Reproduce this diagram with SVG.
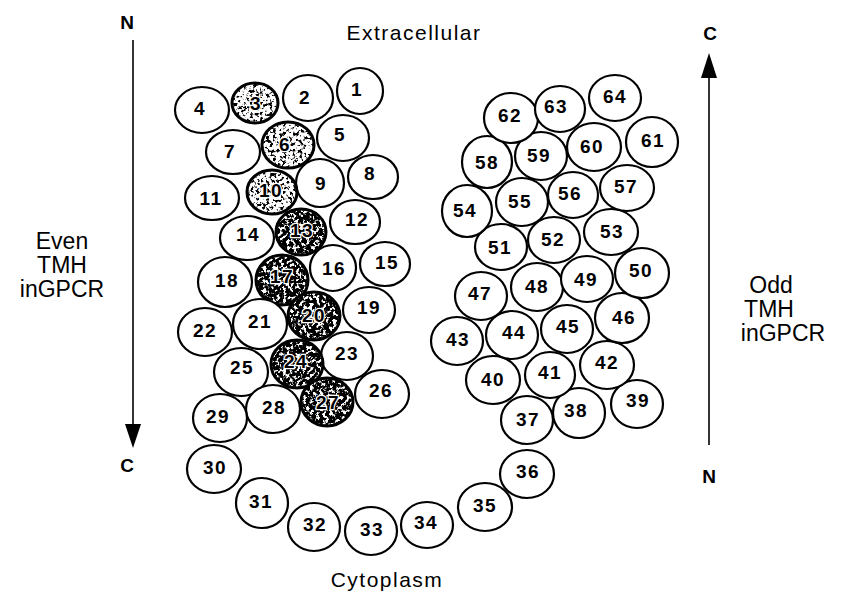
<svg xmlns="http://www.w3.org/2000/svg" width="844" height="601" viewBox="0 0 844 601">
  <style>
    .c { fill: #fff; stroke: #000; stroke-width: 2.2; }
    .sh { stroke: #000; stroke-width: 3; }
    .n { font-family: "Liberation Sans", Arial, sans-serif; font-size: 19px; font-weight: bold; letter-spacing: 1.5px; text-anchor: middle; fill: #000; }
    .nd { paint-order: stroke; stroke: #fff; stroke-width: 2.5px; }
    .lbl { font-family: "Liberation Sans", Arial, sans-serif; font-size: 23px; text-anchor: middle; fill: #000; }
    .loc { font-family: "Liberation Sans", Arial, sans-serif; font-size: 21px; letter-spacing: 1.5px; text-anchor: middle; fill: #000; }
    .end { font-family: "Liberation Sans", Arial, sans-serif; font-size: 19px; font-weight: bold; text-anchor: middle; fill: #000; }
    .ax { stroke: #000; stroke-width: 1.6; fill: none; }
    .head { fill: #000; }
  </style>
  <defs>
    <!-- speckled fill for the marked helices: light and dark grades -->
    <filter id="speckLight" x="0" y="0" width="100%" height="100%">
      <feTurbulence type="fractalNoise" baseFrequency="0.3" numOctaves="3" seed="4" result="n"/>
      <feColorMatrix in="n" type="matrix" values="0 0 0 0 0  0 0 0 0 0  0 0 0 0 0  9 0 0 0 -4.7" result="a"/>
      <feComposite in="a" in2="SourceGraphic" operator="in"/>
    </filter>
    <filter id="speckDark" x="0" y="0" width="100%" height="100%">
      <feTurbulence type="fractalNoise" baseFrequency="0.3" numOctaves="3" seed="9" result="n"/>
      <feColorMatrix in="n" type="matrix" values="0 0 0 0 0  0 0 0 0 0  0 0 0 0 0  9 0 0 0 -3.4" result="a"/>
      <feComposite in="a" in2="SourceGraphic" operator="in"/>
    </filter>
  </defs>

  <rect width="844" height="601" fill="#fff"/>

  <!-- side labels -->
  <text class="loc" x="414" y="40">Extracellular</text>
  <text class="loc" x="387" y="587">Cytoplasm</text>
  <text class="lbl" x="62" y="249">Even</text>
  <text class="lbl" x="62" y="273">TMH</text>
  <text class="lbl" x="62" y="297">inGPCR</text>
  <text class="lbl" x="771" y="293">Odd</text>
  <text class="lbl" x="769" y="317">TMH</text>
  <text class="lbl" x="783" y="341">inGPCR</text>
  <text class="end" x="127" y="29">N</text>
  <text class="end" x="127" y="472">C</text>
  <text class="end" x="710" y="40">C</text>
  <text class="end" x="709" y="483">N</text>

  <!-- direction arrows -->
  <g id="connectors">
    <path class="ax" d="M133,40 V428"/>
    <path class="head" d="M125,424 L141,424 L133,448 Z"/>
    <path class="ax" d="M709,445 V76"/>
    <path class="head" d="M701,78 L717,78 L709,53 Z"/>
  </g>

  <!-- even helix residues -->
  <g id="n1"><ellipse class="c" cx="360" cy="91" rx="23" ry="23"/><text class="n" x="357" y="96">1</text></g>
  <g id="n2"><ellipse class="c" cx="308" cy="98" rx="25" ry="23"/><text class="n" x="305" y="104">2</text></g>
  <g id="n3"><ellipse class="c sh" cx="255" cy="103" rx="23" ry="20"/><ellipse cx="255" cy="103" rx="22" ry="19" filter="url(#speckLight)"/><text class="n nd" x="256" y="110">3</text></g>
  <g id="n4"><ellipse class="c" cx="202" cy="110" rx="27" ry="23"/><text class="n" x="200" y="115">4</text></g>
  <g id="n5"><ellipse class="c" cx="343" cy="138" rx="26" ry="23"/><text class="n" x="340" y="141">5</text></g>
  <g id="n6"><ellipse class="c sh" cx="288" cy="145" rx="26" ry="23"/><ellipse cx="288" cy="145" rx="25" ry="22" filter="url(#speckLight)"/><text class="n nd" x="285" y="151">6</text></g>
  <g id="n7"><ellipse class="c" cx="233" cy="152" rx="27" ry="22"/><text class="n" x="230" y="158">7</text></g>
  <g id="n8"><ellipse class="c" cx="373" cy="177" rx="25" ry="22"/><text class="n" x="370" y="180">8</text></g>
  <g id="n9"><ellipse class="c" cx="320" cy="183" rx="24" ry="24"/><text class="n" x="321" y="190">9</text></g>
  <g id="n10"><ellipse class="c sh" cx="272" cy="192" rx="25" ry="22"/><ellipse cx="272" cy="192" rx="24" ry="21" filter="url(#speckLight)"/><text class="n nd" x="271" y="197">10</text></g>
  <g id="n11"><ellipse class="c" cx="212" cy="198" rx="27" ry="22"/><text class="n" x="211" y="205">11</text></g>
  <g id="n12"><ellipse class="c" cx="355" cy="222" rx="25" ry="22"/><text class="n" x="357" y="226">12</text></g>
  <g id="n13"><ellipse class="c sh" cx="301" cy="232" rx="25" ry="23"/><ellipse cx="301" cy="232" rx="24" ry="22" filter="url(#speckDark)"/><text class="n nd" x="302" y="237">13</text></g>
  <g id="n14"><ellipse class="c" cx="247" cy="238" rx="27" ry="22"/><text class="n" x="248" y="241">14</text></g>
  <g id="n15"><ellipse class="c" cx="385" cy="264" rx="25" ry="22"/><text class="n" x="387" y="269">15</text></g>
  <g id="n16"><ellipse class="c" cx="333" cy="268" rx="23" ry="23"/><text class="n" x="334" y="275">16</text></g>
  <g id="n17"><ellipse class="c sh" cx="282" cy="280" rx="26" ry="25"/><ellipse cx="282" cy="280" rx="25" ry="24" filter="url(#speckDark)"/><text class="n nd" x="282" y="283">17</text></g>
  <g id="n18"><ellipse class="c" cx="225" cy="282" rx="27" ry="25"/><text class="n" x="227" y="287">18</text></g>
  <g id="n19"><ellipse class="c" cx="369" cy="310" rx="26" ry="23"/><text class="n" x="369" y="314">19</text></g>
  <g id="n20"><ellipse class="c sh" cx="314" cy="316" rx="26" ry="24"/><ellipse cx="314" cy="316" rx="25" ry="23" filter="url(#speckDark)"/><text class="n nd" x="314" y="322">20</text></g>
  <g id="n21"><ellipse class="c" cx="260" cy="324" rx="27" ry="25"/><text class="n" x="260" y="328">21</text></g>
  <g id="n22"><ellipse class="c" cx="205" cy="332" rx="27" ry="24"/><text class="n" x="205" y="337">22</text></g>
  <g id="n23"><ellipse class="c" cx="347" cy="356" rx="26" ry="24"/><text class="n" x="347" y="360">23</text></g>
  <g id="n24"><ellipse class="c sh" cx="297" cy="364" rx="26" ry="24"/><ellipse cx="297" cy="364" rx="25" ry="23" filter="url(#speckDark)"/><text class="n nd" x="296" y="368">24</text></g>
  <g id="n25"><ellipse class="c" cx="241" cy="372" rx="27" ry="24"/><text class="n" x="242" y="374">25</text></g>
  <g id="n26"><ellipse class="c" cx="382" cy="394" rx="27" ry="24"/><text class="n" x="381" y="397">26</text></g>
  <g id="n27"><ellipse class="c sh" cx="327" cy="402" rx="26" ry="24"/><ellipse cx="327" cy="402" rx="25" ry="23" filter="url(#speckDark)"/><text class="n nd" x="328" y="409">27</text></g>
  <g id="n28"><ellipse class="c" cx="273" cy="409" rx="27" ry="24"/><text class="n" x="274" y="414">28</text></g>
  <g id="n29"><ellipse class="c" cx="220" cy="418" rx="27" ry="24"/><text class="n" x="218" y="423">29</text></g>

  <!-- cytoplasmic loop -->
  <g id="n30"><ellipse class="c" cx="214" cy="469" rx="27" ry="24"/><text class="n" x="215" y="474">30</text></g>
  <g id="n31"><ellipse class="c" cx="262" cy="503" rx="26" ry="25"/><text class="n" x="261" y="508">31</text></g>
  <g id="n32"><ellipse class="c" cx="314" cy="527" rx="26" ry="24"/><text class="n" x="315" y="531">32</text></g>
  <g id="n33"><ellipse class="c" cx="371" cy="531" rx="26" ry="24"/><text class="n" x="372" y="536">33</text></g>
  <g id="n34"><ellipse class="c" cx="427" cy="525" rx="26" ry="23"/><text class="n" x="426" y="529">34</text></g>
  <g id="n35"><ellipse class="c" cx="485" cy="507" rx="27" ry="24"/><text class="n" x="485" y="512">35</text></g>
  <g id="n36"><ellipse class="c" cx="527" cy="474" rx="27" ry="24"/><text class="n" x="528" y="478">36</text></g>

  <!-- odd helix residues -->
  <g id="n37"><ellipse class="c" cx="527" cy="420" rx="26" ry="24"/><text class="n" x="528" y="426">37</text></g>
  <g id="n38"><ellipse class="c" cx="579" cy="413" rx="26" ry="25"/><text class="n" x="576" y="417">38</text></g>
  <g id="n39"><ellipse class="c" cx="637" cy="404" rx="26" ry="24"/><text class="n" x="638" y="407">39</text></g>
  <g id="n40"><ellipse class="c" cx="493" cy="380" rx="27" ry="24"/><text class="n" x="493" y="386">40</text></g>
  <g id="n41"><ellipse class="c" cx="550" cy="375" rx="25" ry="23"/><text class="n" x="550" y="379">41</text></g>
  <g id="n42"><ellipse class="c" cx="607" cy="365" rx="27" ry="24"/><text class="n" x="607" y="369">42</text></g>
  <g id="n43"><ellipse class="c" cx="457" cy="341" rx="26" ry="24"/><text class="n" x="458" y="346">43</text></g>
  <g id="n44"><ellipse class="c" cx="512" cy="335" rx="26" ry="24"/><text class="n" x="514" y="339">44</text></g>
  <g id="n45"><ellipse class="c" cx="567" cy="329" rx="26" ry="24"/><text class="n" x="568" y="333">45</text></g>
  <g id="n46"><ellipse class="c" cx="622" cy="318" rx="27" ry="25"/><text class="n" x="624" y="324">46</text></g>
  <g id="n47"><ellipse class="c" cx="481" cy="296" rx="26" ry="24"/><text class="n" x="480" y="300">47</text></g>
  <g id="n48"><ellipse class="c" cx="537" cy="287" rx="26" ry="24"/><text class="n" x="537" y="293">48</text></g>
  <g id="n49"><ellipse class="c" cx="587" cy="279" rx="26" ry="23"/><text class="n" x="586" y="286">49</text></g>
  <g id="n50"><ellipse class="c" cx="642" cy="273" rx="27" ry="25"/><text class="n" x="641" y="277">50</text></g>
  <g id="n51"><ellipse class="c" cx="501" cy="247" rx="26" ry="23"/><text class="n" x="500" y="254">51</text></g>
  <g id="n52"><ellipse class="c" cx="554" cy="240" rx="26" ry="23"/><text class="n" x="553" y="246">52</text></g>
  <g id="n53"><ellipse class="c" cx="611" cy="232" rx="27" ry="23"/><text class="n" x="612" y="238">53</text></g>
  <g id="n54"><ellipse class="c" cx="467" cy="211" rx="25" ry="26"/><text class="n" x="465" y="217">54</text></g>
  <g id="n55"><ellipse class="c" cx="522" cy="202" rx="26" ry="24"/><text class="n" x="520" y="208">55</text></g>
  <g id="n56"><ellipse class="c" cx="573" cy="195" rx="25" ry="23"/><text class="n" x="570" y="200">56</text></g>
  <g id="n57"><ellipse class="c" cx="627" cy="188" rx="27" ry="23"/><text class="n" x="626" y="193">57</text></g>
  <g id="n58"><ellipse class="c" cx="487" cy="162" rx="25" ry="26"/><text class="n" x="487" y="169">58</text></g>
  <g id="n59"><ellipse class="c" cx="541" cy="156" rx="26" ry="24"/><text class="n" x="539" y="162">59</text></g>
  <g id="n60"><ellipse class="c" cx="594" cy="147" rx="27" ry="24"/><text class="n" x="592" y="153">60</text></g>
  <g id="n61"><ellipse class="c" cx="652" cy="142" rx="26" ry="25"/><text class="n" x="653" y="147">61</text></g>
  <g id="n62"><ellipse class="c" cx="511" cy="118" rx="27" ry="25"/><text class="n" x="510" y="122">62</text></g>
  <g id="n63"><ellipse class="c" cx="560" cy="109" rx="25" ry="23"/><text class="n" x="556" y="113">63</text></g>
  <g id="n64"><ellipse class="c" cx="615" cy="98" rx="26" ry="23"/><text class="n" x="615" y="103">64</text></g>
</svg>
